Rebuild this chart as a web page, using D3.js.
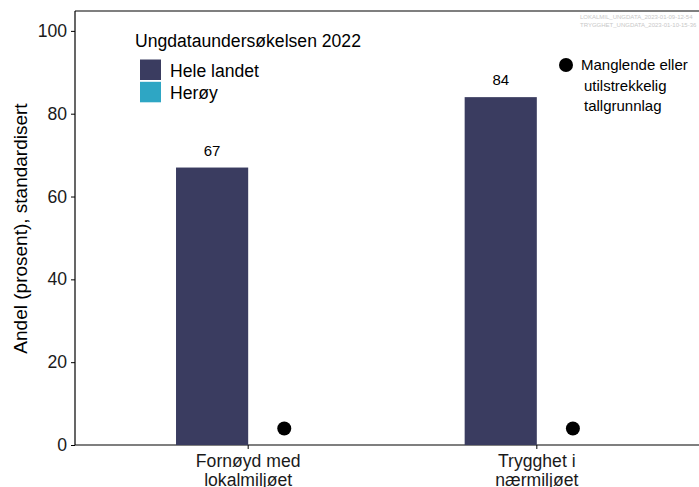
<!DOCTYPE html>
<html><head><meta charset="utf-8">
<script src="https://cdn.jsdelivr.net/npm/d3@7"></script>
<style>body{margin:0;background:#fff}svg{display:block;font-family:Arial,"Liberation Sans",sans-serif}</style>
</head><body><svg id="c" width="699" height="487"></svg>
<script>
const categories = [["Fornøyd med","lokalmiljøet"],["Trygghet i","nærmiljøet"]];
const seriesNames = ["Hele landet","Herøy"];
const heleLandet = [67, 84];
const heroy = [null, null];
const missingMarkerValue = 4;
const yTicks = [0,20,40,60,80,100];
const colors = ["#3a3c60","#2ea6c4"];
const fileTags = ["LOKALMIL_UNGDATA_2023-01-09-12-54","TRYGGHET_UNGDATA_2023-01-10-15-36"];

const svg = d3.select("#c");
const pL = 75, pT = 11, pB = 445, pR = 710;
const y = d3.scaleLinear().domain([0,104.8]).range([pB, pT]);
const x = d3.scaleLinear().domain([-0.6, categories.length-1+0.6]).range([pL,pR]);
const cx = i => x(i);
const dodge = x(0.125)-x(0), bw = x(0.25)-x(0);

// axes
const ya = svg.append("g").attr("transform",`translate(${pL},0)`).call(d3.axisLeft(y).tickValues(yTicks).tickSize(4).tickPadding(4));
ya.select(".domain").remove();
ya.selectAll("text").attr("font-size",17.6).attr("fill","#1a1a1a").attr("font-family","Arial,'Liberation Sans',sans-serif");
ya.selectAll("line").attr("stroke","#000");
svg.append("line").attr("x1",pL).attr("x2",pL).attr("y1",pT).attr("y2",pB).attr("stroke","#000").attr("stroke-width",1.2);
svg.append("line").attr("x1",pL).attr("x2",pR).attr("y1",pT).attr("y2",pT).attr("stroke","#000").attr("stroke-width",1.2);
svg.append("line").attr("x1",pL).attr("x2",pR).attr("y1",pB).attr("y2",pB).attr("stroke","#000").attr("stroke-width",1.2);
categories.forEach((c,i)=>{
  svg.append("line").attr("x1",cx(i)).attr("x2",cx(i)).attr("y1",pB).attr("y2",pB+4).attr("stroke","#000");
  const t = svg.append("text").attr("x",cx(i)).attr("text-anchor","middle").attr("font-size",17.6).attr("fill","#1a1a1a");
  c.forEach((l,j)=>t.append("tspan").attr("x",cx(i)).attr("y",467+j*19).text(l));
});

// bars
svg.selectAll("rect.bar").data(heleLandet).join("rect").attr("class","bar")
  .attr("x",(d,i)=>cx(i)-dodge-bw/2).attr("width",bw)
  .attr("y",d=>y(d)).attr("height",d=>pB-y(d)).attr("fill",colors[0]);
svg.selectAll("text.val").data(heleLandet).join("text").attr("class","val")
  .attr("x",(d,i)=>cx(i)-dodge).attr("y",d=>y(d)-12).attr("text-anchor","middle")
  .attr("font-size",15).attr("fill","#000").text(d=>d);
// Herøy bars / missing markers
heroy.forEach((d,i)=>{
  if(d==null){
    svg.append("circle").attr("cx",cx(i)+dodge).attr("cy",y(missingMarkerValue)).attr("r",7).attr("fill","#000");
  } else {
    svg.append("rect").attr("x",cx(i)+dodge-bw/2).attr("width",bw).attr("y",y(d)).attr("height",pB-y(d)).attr("fill",colors[1]);
  }
});

// y title
svg.append("text").attr("transform","translate(27,228.5) rotate(-90)").attr("text-anchor","middle")
  .attr("font-size",19).attr("fill","#000").text("Andel (prosent), standardisert");

// legend
svg.append("text").attr("x",135).attr("y",47).attr("font-size",17.6).attr("fill","#000").text("Ungdataundersøkelsen 2022");
seriesNames.forEach((s,i)=>{
  svg.append("rect").attr("x",140).attr("y",59.5+i*22.3).attr("width",21).attr("height",20.5).attr("fill",colors[i]);
  svg.append("text").attr("x",170).attr("y",76.5+i*22.3).attr("font-size",17.6).attr("fill","#000").text(s);
});
svg.append("circle").attr("cx",566).attr("cy",65).attr("r",7).attr("fill","#000");
const mt = svg.append("text").attr("font-size",15).attr("fill","#000");
[["Manglende eller",581,70],["utilstrekkelig",584,90.5],["tallgrunnlag",584,111]].forEach(([t,xx,yy])=>mt.append("tspan").attr("x",xx).attr("y",yy).text(t));

// file tags
fileTags.forEach((t,i)=>svg.append("text").attr("x",580).attr("y",19+i*8).attr("font-size",6).attr("fill","#c8c8c8").text(t));
</script></body></html>
